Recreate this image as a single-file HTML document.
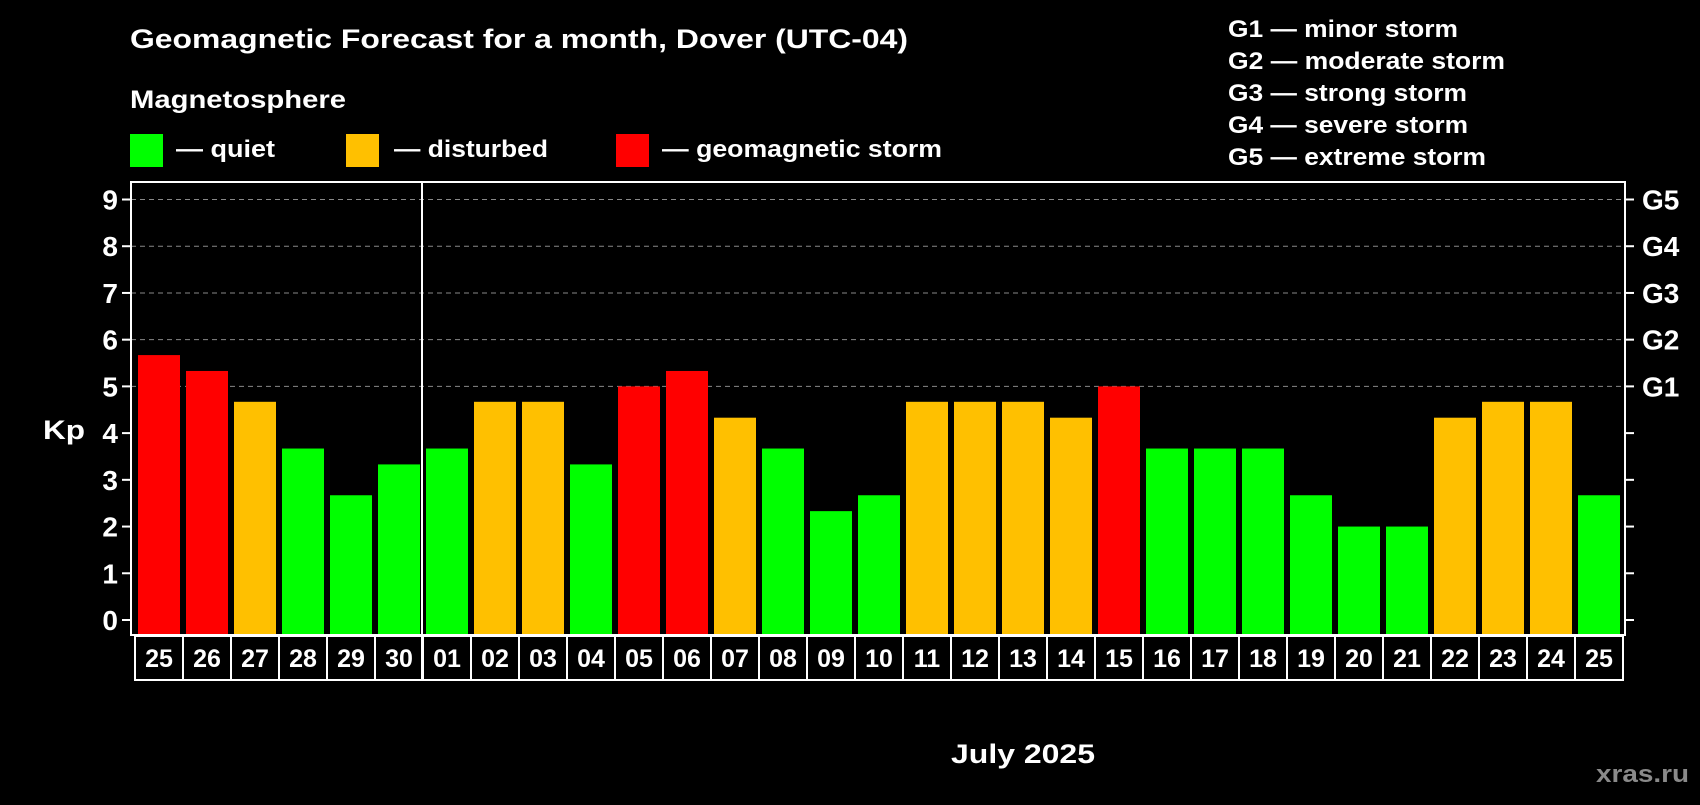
<!DOCTYPE html>
<html><head><meta charset="utf-8"><style>
body{margin:0;background:#000;width:1700px;height:800px;overflow:hidden;font-family:"Liberation Sans",sans-serif}
svg text{font-family:"Liberation Sans",sans-serif;font-weight:bold;fill:#fff}
</style></head><body>
<svg id="chart" width="1700" height="800">
<text x="130" y="48" font-size="27" textLength="778" lengthAdjust="spacingAndGlyphs">Geomagnetic Forecast for a month, Dover (UTC-04)</text>
<text x="130" y="108" font-size="25" textLength="216" lengthAdjust="spacingAndGlyphs">Magnetosphere</text>
<rect x="130" y="134" width="33" height="33" fill="#00ff00"/>
<text x="176" y="157" font-size="24" textLength="99" lengthAdjust="spacingAndGlyphs">— quiet</text>
<rect x="346" y="134" width="33" height="33" fill="#ffc000"/>
<text x="394" y="157" font-size="24" textLength="154" lengthAdjust="spacingAndGlyphs">— disturbed</text>
<rect x="616" y="134" width="33" height="33" fill="#ff0000"/>
<text x="662" y="157" font-size="24" textLength="280" lengthAdjust="spacingAndGlyphs">— geomagnetic storm</text>
<g font-size="24">
<text x="1228" y="37" textLength="230" lengthAdjust="spacingAndGlyphs">G1 — minor storm</text>
<text x="1228" y="69" textLength="277" lengthAdjust="spacingAndGlyphs">G2 — moderate storm</text>
<text x="1228" y="101" textLength="239" lengthAdjust="spacingAndGlyphs">G3 — strong storm</text>
<text x="1228" y="133" textLength="240" lengthAdjust="spacingAndGlyphs">G4 — severe storm</text>
<text x="1228" y="165" textLength="258" lengthAdjust="spacingAndGlyphs">G5 — extreme storm</text>
</g>
<text x="43" y="439" font-size="27" textLength="42" lengthAdjust="spacingAndGlyphs">Kp</text>
<text x="951" y="763" font-size="27" textLength="144" lengthAdjust="spacingAndGlyphs">July 2025</text>
<text x="1596" y="782" font-size="24" textLength="93" lengthAdjust="spacingAndGlyphs" style="fill:#8a8a8a">xras.ru</text>
<g id="plot"></g>
</svg>
<script>
const days=["25","26","27","28","29","30","01","02","03","04","05","06","07","08","09","10","11","12","13","14","15","16","17","18","19","20","21","22","23","24","25"];
const kpValues=[5.67,5.33,4.67,3.67,2.67,3.33,3.67,4.67,4.67,3.33,5,5.33,4.33,3.67,2.33,2.67,4.67,4.67,4.67,4.33,5,3.67,3.67,3.67,2.67,2,2,4.33,4.67,4.67,2.67];
const yTicks=[0,1,2,3,4,5,6,7,8,9];
const gLabels=["G1","G2","G3","G4","G5"];
const gLevels=[5,6,7,8,9];
const NS="http://www.w3.org/2000/svg";
const g=document.getElementById('plot');
const L=131,R=1625,T=182,B=635;
const y=v=>620-v*(620-199.5)/9;
const x=i=>135+i*48;
function mk(t,a){const e=document.createElementNS(NS,t);for(const k in a)e.setAttribute(k,a[k]);g.appendChild(e);return e;}
yTicks.forEach(v=>{
 if(v>=5){const l=mk('line',{x1:L,x2:R,y1:y(v),y2:y(v),stroke:'#888','stroke-dasharray':'5,4','stroke-width':1});
 
 }
 const t=mk('line',{x1:L-9,x2:L,y1:y(v),y2:y(v),stroke:'#fff','stroke-width':2});
 
 
 const t2=mk('line',{x1:R,x2:R+9,y1:y(v),y2:y(v),stroke:'#fff','stroke-width':2});
 
 
 const tx=mk('text',{x:L-13,y:y(v)+10,'font-size':28,'text-anchor':'end'});tx.textContent=v;
 
 
});
gLevels.forEach((v,i)=>{const tx=mk('text',{x:R+17,y:y(v)+10,'font-size':28});tx.textContent=gLabels[i];
 
 });
kpValues.forEach((v,i)=>{
 const c=v>=5?'#ff0000':(v>=4?'#ffc000':'#00ff00');
 const r=mk('rect',{x:x(i)+3,y:y(v),width:42,height:635-y(v)-1,fill:c});
 
 
 const b=mk('rect',{x:x(i),y:636,width:48,height:44,fill:'none',stroke:'#fff','stroke-width':2});
 
 
 const t=mk('text',{x:x(i)+24,y:667,'font-size':25,'text-anchor':'middle'});t.textContent=days[i];
 
 
});
const fr=mk('rect',{x:L,y:T,width:R-L,height:B-T,fill:'none',stroke:'#fff','stroke-width':2});


const sep=mk('line',{x1:x(6)-1,x2:x(6)-1,y1:T,y2:680,stroke:'#fff','stroke-width':2});


</script>
</body></html>
